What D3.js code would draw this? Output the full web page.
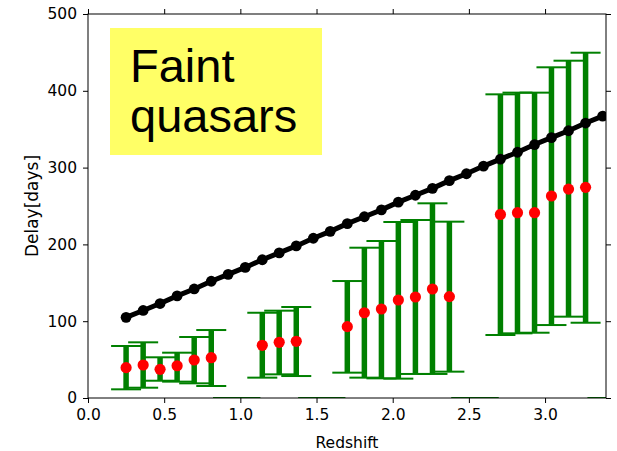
<!DOCTYPE html>
<html>
  <head>
    <title>Faint quasars delay</title>
    <script src="https://d3js.org/d3.v7.min.js"></script>
    <style>
      body { margin: 0; background: #fff; }
      text { font-family: "DejaVu Sans", sans-serif; }
    </style>
  </head>
  <body>
    <svg width="617" height="451"></svg>
    <script>
      // values
      const redshift = [0.25, 0.362, 0.473, 0.585, 0.697, 0.809, 0.920, 1.032, 1.144, 1.255,
        1.367, 1.479, 1.590, 1.702, 1.814, 1.926, 2.037, 2.149, 2.261, 2.372,
        2.484, 2.596, 2.707, 2.819, 2.931, 3.042, 3.154, 3.266, 3.378];
      const delayModel = [105, 114, 123, 133, 142, 152, 161, 170, 180, 189,
        198, 208, 217, 227, 236, 245, 255, 264, 273, 283,
        292, 302, 311, 320, 330, 339, 348, 358, 367];
      const delayMean = [39.5, 43, 37.3, 42, 49.5, 52.5, null, null, 68.6, 72.5,
        73.8, null, null, 92.9, 111, 115.9, 127.6, 131.5, 141.9, 132,
        null, null, 239, 241.3, 241.3, 263, 272, 274.3, null];
      const delayLow = [11.3, 13.4, 22.5, 21.3, 19.1, 15.6, 0, 0, 26.5, 30.8,
        28.6, 0, 0, 33, 26.5, 25.6, 25.2, 31.3, 31.3, 34.3,
        0, 0, 82, 84.2, 85, 95, 105.9, 98, 0];
      const delayHigh = [67.7, 72.5, 53, 59, 79.4, 88.5, 0, 0, 111, 113.7,
        118.5, 0, 0, 152.3, 195.7, 204.4, 229.2, 231.8, 253.5, 229.6,
        0, 0, 395.4, 397.6, 397.6, 430.6, 439.2, 449.6, 0];
      const xTicks = [0, 0.5, 1.0, 1.5, 2.0, 2.5, 3.0];
      const yTicks = [0, 100, 200, 300, 400, 500];
      const boxLines = ["Faint", "quasars"];

      const svg = d3.select("svg");
      const margin = {top: 14, right: 11, bottom: 53, left: 88};
      const width = +svg.attr("width") - margin.left - margin.right;
      const height = +svg.attr("height") - margin.top - margin.bottom;

      const xScale = d3.scaleLinear().domain([0, 3.4]).range([0, width]);
      const yScale = d3.scaleLinear().domain([0, 500]).range([height, 0]);

      const data = redshift.map((z, i) => ({
        z: z, model: delayModel[i], mean: delayMean[i], lo: delayLow[i], hi: delayHigh[i]
      }));

      svg.append("defs").append("clipPath").attr("id", "clip")
        .append("rect").attr("width", width).attr("height", height);

      const g = svg.append("g").attr("transform", `translate(${margin.left},${margin.top})`);
      const plot = g.append("g").attr("clip-path", "url(#clip)");

      // error bars
      const bars = plot.selectAll(".err").data(data).enter().append("g").attr("class", "err");
      bars.append("line")
        .attr("x1", d => xScale(d.z)).attr("x2", d => xScale(d.z))
        .attr("y1", d => yScale(d.lo)).attr("y2", d => yScale(d.hi))
        .attr("stroke", "#008000").attr("stroke-width", 5.5);
      ["lo", "hi"].forEach(k => {
        bars.append("line")
          .attr("x1", d => xScale(d.z) - 15).attr("x2", d => xScale(d.z) + 15)
          .attr("y1", d => yScale(d[k])).attr("y2", d => yScale(d[k]))
          .attr("stroke", "#008000").attr("stroke-width", 2);
      });

      plot.selectAll(".mean").data(data.filter(d => d.mean !== null)).enter().append("circle")
        .attr("class", "mean")
        .attr("cx", d => xScale(d.z)).attr("cy", d => yScale(d.mean))
        .attr("r", 5.6).attr("fill", "#ff0000");

      // model line
      const line = d3.line().x(d => xScale(d.z)).y(d => yScale(d.model));
      plot.append("path").datum(data)
        .attr("d", line).attr("fill", "none")
        .attr("stroke", "#000").attr("stroke-width", 5);
      plot.selectAll(".model").data(data).enter().append("circle")
        .attr("class", "model")
        .attr("cx", d => xScale(d.z)).attr("cy", d => yScale(d.model))
        .attr("r", 5.4).attr("fill", "#000");

      // axes
      const fmtX = d3.format(".1f");
      const styleAxis = (sel, showText) => {
        sel.select(".domain").remove();
        sel.selectAll(".tick line").attr("stroke", "#000");
        sel.selectAll(".tick text").attr("fill", "#000").style("font-size", "15.5px")
          .style("font-family", "DejaVu Sans");
        if (!showText) sel.selectAll(".tick text").remove();
      };
      g.append("g").attr("transform", `translate(0,${height})`)
        .call(d3.axisBottom(xScale).tickValues(xTicks).tickFormat(fmtX).tickSize(5).tickPadding(6))
        .call(s => styleAxis(s, true));
      g.append("g")
        .call(d3.axisTop(xScale).tickValues(xTicks).tickSize(5))
        .call(s => styleAxis(s, false));
      g.append("g")
        .call(d3.axisLeft(yScale).tickValues(yTicks).tickSize(5).tickPadding(6))
        .call(s => styleAxis(s, true));
      g.append("g").attr("transform", `translate(${width},0)`)
        .call(d3.axisRight(yScale).tickValues(yTicks).tickSize(5))
        .call(s => styleAxis(s, false));

      g.append("rect").attr("width", width).attr("height", height)
        .attr("fill", "none").attr("stroke", "#000").attr("stroke-width", 1);

      // labels
      svg.append("text")
        .attr("x", margin.left + width / 2).attr("y", 448)
        .attr("text-anchor", "middle").style("font-size", "15.5px")
        .text("Redshift");
      svg.append("text")
        .attr("transform", `translate(38,${margin.top + height / 2}) rotate(-90)`)
        .attr("text-anchor", "middle").style("font-size", "17px")
        .text("Delay[days]");

      // annotation box
      const box = svg.append("g").attr("transform", "translate(110,28)");
      box.append("rect").attr("width", 212).attr("height", 127).attr("fill", "#ffff66");
      box.selectAll("text").data(boxLines).enter().append("text")
        .attr("x", 20).attr("y", (d, i) => 54 + i * 50)
        .style("font-family", "'Liberation Sans', Arial, sans-serif")
        .style("font-size", "47px").attr("fill", "#000")
        .text(d => d);
    </script>
  </body>
</html>
